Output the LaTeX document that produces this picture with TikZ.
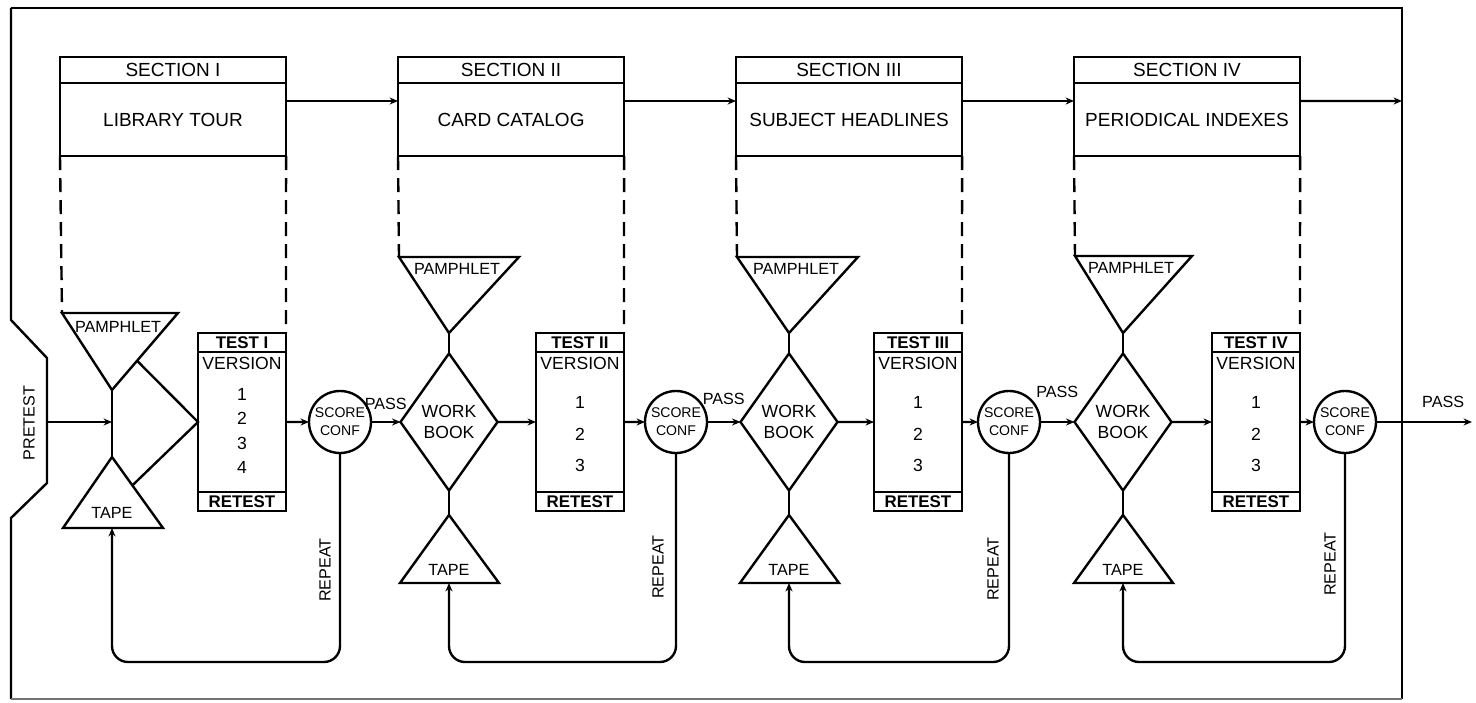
\documentclass[tikz,border=0pt]{standalone}
\usepackage{fontspec}
\setmainfont{Liberation Sans}
\usetikzlibrary{positioning}
\usetikzlibrary{shapes.geometric}
\usetikzlibrary{arrows.meta}
\usetikzlibrary{calc}

\begin{document}
\begin{tikzpicture}[
        x=0.025cm, y=-0.025cm,
        line width=1.7pt,
        every node/.style={inner sep=0pt, outer sep=0pt},
        secthead/.style={rectangle, draw, minimum width=5.65cm, minimum height=0.65cm, font=\fontsize{13.5}{15}\selectfont},
        sectbody/.style={rectangle, draw, minimum width=5.65cm, minimum height=1.825cm, font=\fontsize{13.5}{15}\selectfont},
        testhead/.style={rectangle, draw, minimum width=2.2cm, minimum height=0.475cm, font=\bfseries\fontsize{12}{13}\selectfont},
        testbody/.style={rectangle, draw, minimum width=2.2cm, minimum height=3.5cm},
        versions/.style={align=center, font=\fontsize{12.5}{17.5}\selectfont},
        workbook/.style={diamond, draw, aspect=0.7, minimum width=2.425cm, minimum height=3.425cm, align=center, font=\fontsize{12.5}{15}\selectfont},
        score/.style={circle, draw, minimum size=1.55cm, align=center, font=\fontsize{10}{13}\selectfont},
        lbl/.style={font=\fontsize{11.5}{13}\selectfont},
        dashline/.style={dash pattern=on 0.35cm off 0.2cm},
        arrow/.style={->, >={Stealth[length=6pt, width=5pt]}}
        ]
        \useasboundingbox (0,0) rectangle (1476,703);

        % Frame
        \draw (11,8) -- (1402,8) -- (1402,699);
        \draw (11,8) -- (11,320) -- (47,358) -- (47,483) -- (11,518) -- (11,699);
        \draw[line width=0.8pt, black!55] (11,699) -- (1402,699);
        \coordinate (fr) at (1402,101);
        \coordinate (pre) at (47,422);
        \coordinate (out) at (1472,422);
        \node[lbl, rotate=90] (pt) at (29,423) {PRETEST};

        % Section I
        \node[secthead, anchor=north west] (s1) at (60,57) {SECTION I};
        \node[sectbody, below=0pt of s1] (b1) {LIBRARY TOUR};
        \draw (62,313) coordinate (pl1) -- (178,313) coordinate (pr1) -- (112,390) coordinate (pa1) -- cycle;
        \node[lbl] (pp1) at (118,327) {PAMPHLET};
        \draw (63,528) coordinate (tbl1) -- (112,457) coordinate (ta1) -- (163,528) coordinate (tbr1) -- cycle;
        \coordinate (tm1) at (112,528);
        \coordinate (mid1) at (112,422);
        \node[lbl] (tp1) at (112,513) {TAPE};
        \node[testhead, anchor=north west] (th1) at (198,333) {TEST I};
        \node[testbody, below=0pt of th1] (tv1) {};
        \node[testhead, below=0pt of tv1] (rt1) {RETEST};
        \node[versions, below=4pt of tv1.north] (tx1) {VERSION\\[4pt]1\\2\\3\\4};
        \node[score] (sc1) at (340,422) {SCORE\\CONF};
        \coordinate (lb1) at (112,662);
        \node[lbl, rotate=90] (rp1) at (325,570) {REPEAT};

        % Section II
        \node[secthead, anchor=north west] (s2) at (398,57) {SECTION II};
        \node[sectbody, below=0pt of s2] (b2) {CARD CATALOG};
        \draw (399,257) coordinate (pl2) -- (519,257) coordinate (pr2) -- (449,333) coordinate (pa2) -- cycle;
        \node[lbl] (pp2) at (457,269) {PAMPHLET};
        \node[workbook] (wb2) at (449,422) {WORK\\BOOK};
        \draw (400,583) coordinate (tbl2) -- (449,515) coordinate (ta2) -- (499,583) coordinate (tbr2) -- cycle;
        \coordinate (tm2) at (449,583);
        \node[lbl] (tp2) at (449,570) {TAPE};
        \node[testhead, anchor=north west] (th2) at (536,333) {TEST II};
        \node[testbody, below=0pt of th2] (tv2) {};
        \node[testhead, below=0pt of tv2] (rt2) {RETEST};
        \node[versions, below=4pt of tv2.north] (tx2) {VERSION\\[10pt]1\\[5pt]2\\[5pt]3};
        \node[score] (sc2) at (676,422) {SCORE\\CONF};
        \coordinate (lb2) at (449,662);
        \node[lbl, rotate=90] (rp2) at (658,567) {REPEAT};

        % Section III
        \node[secthead, anchor=north west] (s3) at (736,57) {SECTION III};
        \node[sectbody, below=0pt of s3] (b3) {SUBJECT HEADLINES};
        \draw (737,257) coordinate (pl3) -- (858,257) coordinate (pr3) -- (789,333) coordinate (pa3) -- cycle;
        \node[lbl] (pp3) at (796,269) {PAMPHLET};
        \node[workbook] (wb3) at (789,422) {WORK\\BOOK};
        \draw (740,583) coordinate (tbl3) -- (789,515) coordinate (ta3) -- (839,583) coordinate (tbr3) -- cycle;
        \coordinate (tm3) at (789,583);
        \node[lbl] (tp3) at (789,570) {TAPE};
        \node[testhead, anchor=north west] (th3) at (874,333) {TEST III};
        \node[testbody, below=0pt of th3] (tv3) {};
        \node[testhead, below=0pt of tv3] (rt3) {RETEST};
        \node[versions, below=4pt of tv3.north] (tx3) {VERSION\\[10pt]1\\[5pt]2\\[5pt]3};
        \node[score] (sc3) at (1009,422) {SCORE\\CONF};
        \coordinate (lb3) at (789,662);
        \node[lbl, rotate=90] (rp3) at (993,569) {REPEAT};

        % Section IV
        \node[secthead, anchor=north west] (s4) at (1074,57) {SECTION IV};
        \node[sectbody, below=0pt of s4] (b4) {PERIODICAL INDEXES};
        \draw (1075,256) coordinate (pl4) -- (1192,256) coordinate (pr4) -- (1123,333) coordinate (pa4) -- cycle;
        \node[lbl] (pp4) at (1131,268) {PAMPHLET};
        \node[workbook] (wb4) at (1123,422) {WORK\\BOOK};
        \draw (1074,583) coordinate (tbl4) -- (1123,515) coordinate (ta4) -- (1173,583) coordinate (tbr4) -- cycle;
        \coordinate (tm4) at (1123,583);
        \node[lbl] (tp4) at (1123,570) {TAPE};
        \node[testhead, anchor=north west] (th4) at (1212,333) {TEST IV};
        \node[testbody, below=0pt of th4] (tv4) {};
        \node[testhead, below=0pt of tv4] (rt4) {RETEST};
        \node[versions, below=4pt of tv4.north] (tx4) {VERSION\\[10pt]1\\[5pt]2\\[5pt]3};
        \node[score] (sc4) at (1345,422) {SCORE\\CONF};
        \coordinate (lb4) at (1123,662);
        \node[lbl, rotate=90] (rp4) at (1330,564) {REPEAT};

        % Section arrows
        \draw[arrow] ([yshift=-0.45cm]b1.north east) -- ([yshift=-0.45cm]b2.north west);
        \draw[arrow] ([yshift=-0.45cm]b2.north east) -- ([yshift=-0.45cm]b3.north west);
        \draw[arrow] ([yshift=-0.45cm]b3.north east) -- ([yshift=-0.45cm]b4.north west);
        \draw[arrow] ([yshift=-0.45cm]b4.north east) -- (fr);

        % Dashed links
        \draw[dashline] (b1.south west) -- (pl1);
        \draw[dashline] (b1.south east) -- (th1.north east);
        \draw[dashline] (b2.south west) -- (pl2);
        \draw[dashline] (b2.south east) -- (th2.north east);
        \draw[dashline] (b3.south west) -- (pl3);
        \draw[dashline] (b3.south east) -- (th3.north east);
        \draw[dashline] (b4.south west) -- (pl4);
        \draw[dashline] (b4.south east) -- (th4.north east);

        % Section I flow
        \draw (pa1) -- (ta1);
        \draw[arrow] (pre) -- (mid1);
        \draw ($(pr1)!0.62!(pa1)$) -- (tv1.west) -- ($(ta1)!0.4!(tbr1)$);
        \draw[arrow] (tv1) -- (sc1);
        \draw[arrow] (sc1) -- node[lbl, above=9pt] (ps1) {PASS} (wb2);
        \draw[arrow, rounded corners=0.4cm] (sc1.south) |- (lb1) -- (tm1);

        % Section II flow
        \draw (pa2) -- (wb2.north);
        \draw (wb2.south) -- (ta2);
        \draw[arrow] (wb2) -- (tv2);
        \draw[arrow] (tv2) -- (sc2);
        \draw[arrow] (sc2) -- node[lbl, above=12pt] (ps2) {PASS} (wb3);
        \draw[arrow, rounded corners=0.4cm] (sc2.south) |- (lb2) -- (tm2);

        % Section III flow
        \draw (pa3) -- (wb3.north);
        \draw (wb3.south) -- (ta3);
        \draw[arrow] (wb3) -- (tv3);
        \draw[arrow] (tv3) -- (sc3);
        \draw[arrow] (sc3) -- node[lbl, above=17pt] (ps3) {PASS} (wb4);
        \draw[arrow, rounded corners=0.4cm] (sc3.south) |- (lb3) -- (tm3);

        % Section IV flow
        \draw (pa4) -- (wb4.north);
        \draw (wb4.south) -- (ta4);
        \draw[arrow] (wb4) -- (tv4);
        \draw[arrow] (tv4) -- (sc4);
        \draw[arrow] (sc4) -- node[lbl, above=10pt, pos=0.7] (ps4) {PASS} (out);
        \draw[arrow, rounded corners=0.4cm] (sc4.south) |- (lb4) -- (tm4);

    \end{tikzpicture}
\end{document}
